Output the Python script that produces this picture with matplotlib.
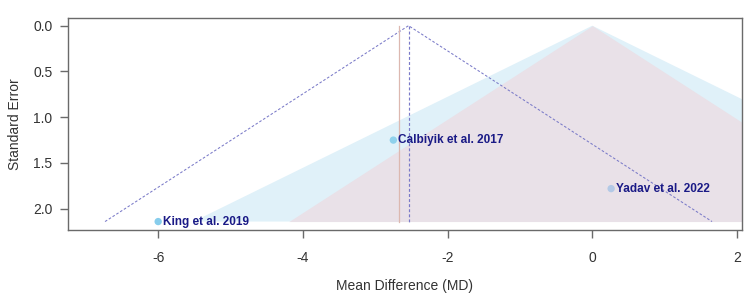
import numpy as np
import matplotlib
matplotlib.use('Agg')
import matplotlib.pyplot as plt

plt.rcParams['font.family'] = ['Liberation Sans', 'DejaVu Sans']

## Study data (mean difference, standard error)
studies = ['King et al. 2019', 'Calbiyik et al. 2017', 'Yadav et al. 2022']
md = np.array([-6.0, -2.75, 0.26])
se = np.array([2.14, 1.25, 1.78])
point_colors = ['#87cdec', '#8fd1ec', '#b3c9e6']

## Pooled estimates
pooled_re = -2.54
pooled_fe = -2.67

## Contour levels (z values)
z_inner = 1.96
z_outer = 2.576

fig = plt.figure(figsize=(7.5, 3.08), dpi=100)
ax = fig.add_axes([0.0903, 0.253, 0.8987, 0.6886])

se_max = se.max()
se_grid = np.array([0, se_max])
xlim = (-7.25, 2.065)

## Contour-enhanced shading around zero
ax.fill_betweenx(se_grid, -z_outer * se_grid, z_outer * se_grid, color='#e0f1f9', lw=0, zorder=1)
ax.fill_betweenx(se_grid, -z_inner * se_grid, z_inner * se_grid, color='#e9e1e8', lw=0, zorder=2)

## Pseudo confidence region around pooled estimate
ax.plot([pooled_re - z_inner * se_max, pooled_re, pooled_re + z_inner * se_max],
        [se_max, 0, se_max], color='#7a7ac8', lw=0.75, ls=(0, (2.5, 1.8)), zorder=3)
ax.plot([pooled_re, pooled_re], [0, se_max], color='#7a7ac8', lw=0.85, ls=(0, (2.5, 1.8)), zorder=3)
ax.plot([pooled_fe, pooled_fe], [0, se_max], color='#dcb8b0', lw=0.9, zorder=3)

## Studies
ax.scatter(md, se, s=28, c=point_colors, zorder=4, linewidths=0)
for name, x, y in zip(studies, md, se):
    ax.text(x + 0.07, y, name, color='#1a1a86', fontsize=8.5, fontweight='bold',
            va='center', ha='left', zorder=5)

ax.set_xlim(xlim)
ax.set_ylim(2.233, -0.084)
ax.set_xticks([-6, -4, -2, 0, 2])
ax.set_xticklabels(['-6', '-4', '-2', '0', '2'])
ax.set_yticks([0, 0.5, 1.0, 1.5, 2.0])
ax.set_yticklabels(['0.0', '0.5', '1.0', '1.5', '2.0'])

for sp in ax.spines.values():
    sp.set_color('#6a6a6a')
    sp.set_linewidth(1.0)
ax.tick_params(axis='both', direction='out', length=6, width=1.0, color='#6a6a6a',
               labelsize=10, labelcolor='#333333')
ax.tick_params(axis='x', pad=9)
ax.tick_params(axis='y', pad=5)

ax.set_xlabel('Mean Difference (MD)', fontsize=10, color='#333333', labelpad=10)
ax.set_ylabel('Standard Error', fontsize=10, color='#333333', labelpad=8)

fig.savefig('out.png', dpi=100)
